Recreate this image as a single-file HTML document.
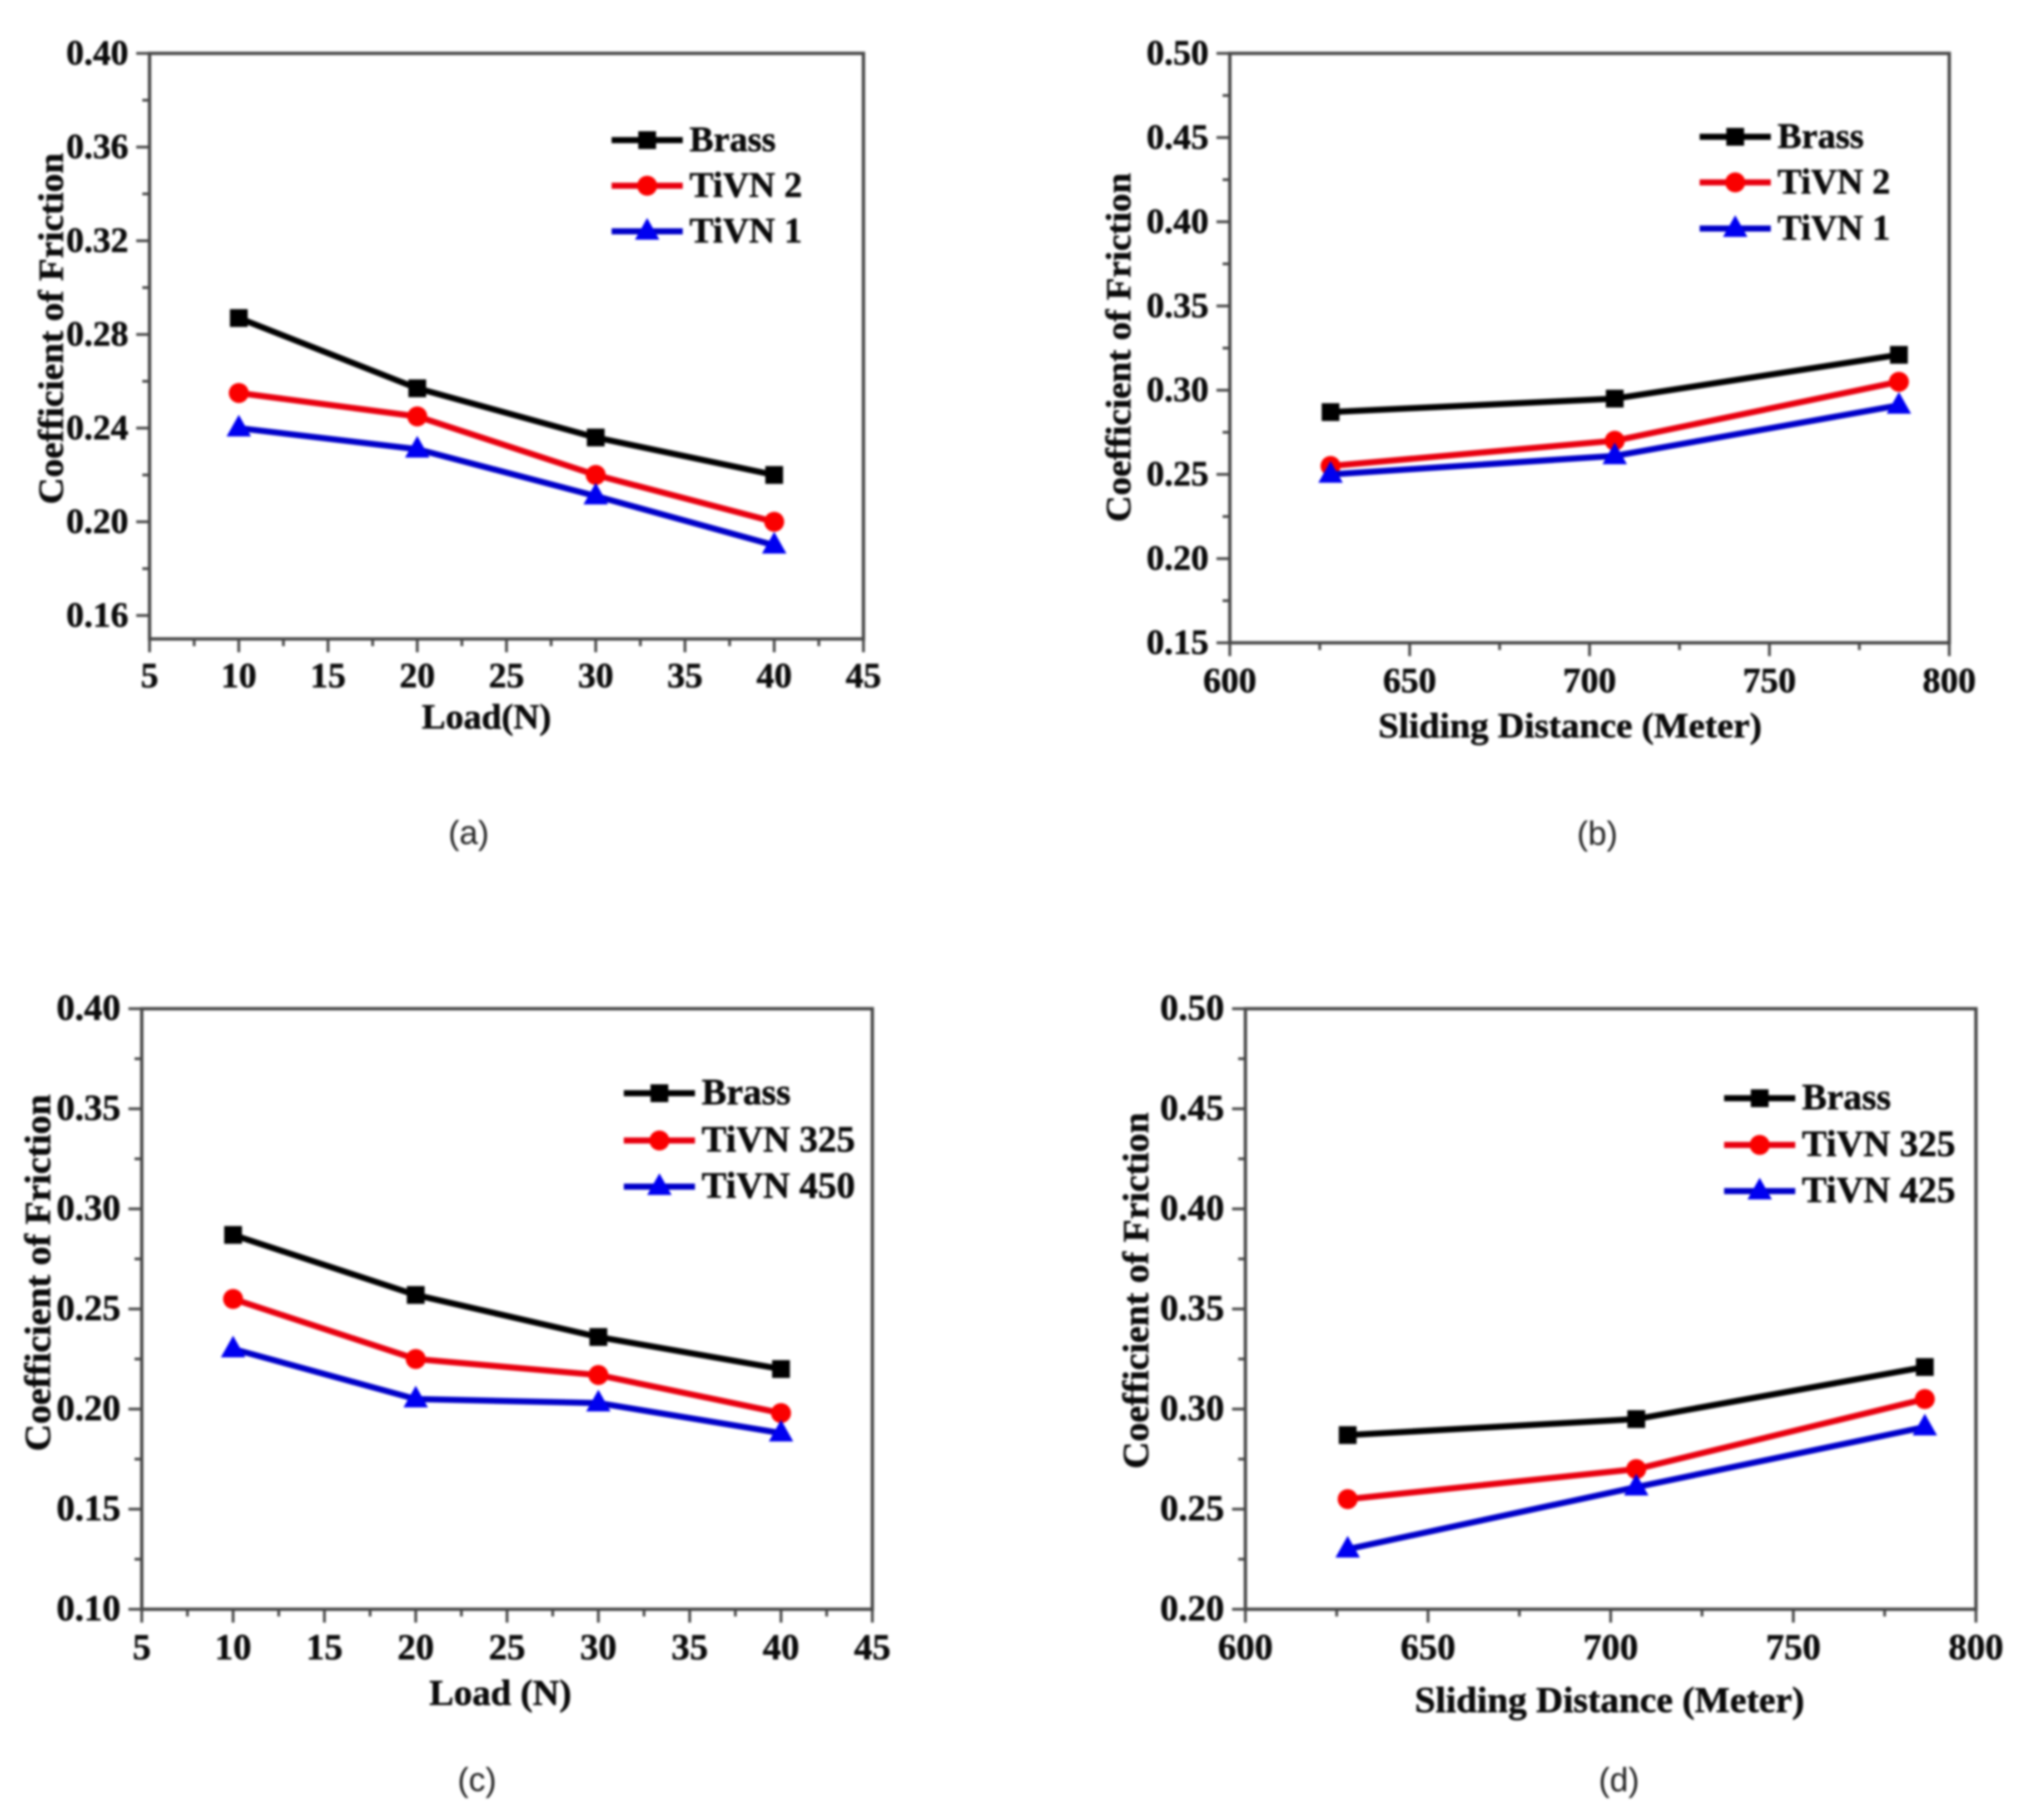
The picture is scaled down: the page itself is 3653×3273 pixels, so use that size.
<!DOCTYPE html>
<html lang="en">
<head>
<meta charset="utf-8">
<title>Coefficient of friction charts</title>
<style>
html,body{margin:0;padding:0;background:#fff;width:3653px;height:3273px;overflow:hidden}
svg{display:block;filter:blur(2px)}
text{font-family:"Liberation Serif",serif;font-weight:700;fill:#0a0a0a;stroke:#0a0a0a;stroke-width:0.8px;font-variant-ligatures:none}
text.caption{font-family:"Liberation Sans",sans-serif;font-weight:400;fill:#222;stroke:none}
</style>
</head>
<body>
<svg id="figure" xmlns="http://www.w3.org/2000/svg" width="3653" height="3273" viewBox="0 0 3653 3273"></svg>
<script>
// ---- Data ----
const loadCategories = [10, 20, 30, 40];
const distanceCategories = [628, 707, 786];

const aBrass = [0.287, 0.257, 0.236, 0.220];
const aTiVN2 = [0.255, 0.245, 0.220, 0.200];
const aTiVN1 = [0.240, 0.231, 0.211, 0.190];

const bBrass = [0.287, 0.295, 0.321];
const bTiVN2 = [0.255, 0.270, 0.305];
const bTiVN1 = [0.250, 0.261, 0.291];

const cBrass = [0.287, 0.257, 0.236, 0.220];
const cTiVN325 = [0.255, 0.225, 0.217, 0.198];
const cTiVN450 = [0.230, 0.205, 0.203, 0.188];

const dBrass = [0.287, 0.295, 0.321];
const dTiVN325 = [0.255, 0.270, 0.305];
const dTiVN425 = [0.230, 0.261, 0.291];

const loadTicks = [5, 10, 15, 20, 25, 30, 35, 40, 45];
const distanceTicks = [600, 650, 700, 750, 800];
const aYTicks = [0.16, 0.20, 0.24, 0.28, 0.32, 0.36, 0.40];
const bYTicks = [0.15, 0.20, 0.25, 0.30, 0.35, 0.40, 0.45, 0.50];
const cYTicks = [0.10, 0.15, 0.20, 0.25, 0.30, 0.35, 0.40];
const dYTicks = [0.20, 0.25, 0.30, 0.35, 0.40, 0.45, 0.50];

const aNames = ['Brass', 'TiVN 2', 'TiVN 1'];
const bNames = ['Brass', 'TiVN 2', 'TiVN 1'];
const cNames = ['Brass', 'TiVN 325', 'TiVN 450'];
const dNames = ['Brass', 'TiVN 325', 'TiVN 425'];

const markerColors = ['#000000', '#fa0000', '#0000f0'];
const lineColors = ['#000000', '#e8000f', '#0000c8'];
const seriesMarkers = ['square', 'circle', 'triangle'];

// ---- Drawing ----
const NS = 'http://www.w3.org/2000/svg';
const figure = document.getElementById('figure');
const axisColor = '#474747';

function make(parent, tag, props, content) {
  const node = document.createElementNS(NS, tag);
  for (const key in props) node.setAttribute(key, props[key]);
  if (content !== undefined) node.textContent = content;
  parent.appendChild(node);
  return node;
}

function drawMarker(parent, kind, cx, cy, color, name) {
  let node;
  if (kind === 'square') {
    node = make(parent, 'rect', {x: cx - 16, y: cy - 16, width: 32, height: 32, fill: color});
  } else if (kind === 'circle') {
    node = make(parent, 'circle', {cx: cx, cy: cy, r: 18, fill: color});
  } else {
    node = make(parent, 'polygon', {points: (cx - 22) + ',' + (cy + 15) + ' ' + (cx + 22) + ',' + (cy + 15) + ' ' + cx + ',' + (cy - 24), fill: color});
  }
  
  
}

function drawPanel(p) {
  const g = make(figure, 'g', {});
  
  

  const xScale = v => p.left + (v - p.xMin) / (p.xMax - p.xMin) * (p.right - p.left);
  const yScale = v => p.bottom - (v - p.yMin) / (p.yMax - p.yMin) * (p.bottom - p.top);

  const frame = make(g, 'rect', {x: p.left, y: p.top, width: p.right - p.left, height: p.bottom - p.top, fill: 'none', stroke: axisColor, 'stroke-width': 6});
  
  

  // x ticks
  const xStep = p.xTicks[1] - p.xTicks[0];
  p.xTicks.forEach((t, i) => {
    const x = xScale(t);
    const tick = make(g, 'line', {x1: x, x2: x, y1: p.bottom, y2: p.bottom + 24, stroke: axisColor, 'stroke-width': 5});
    
    
    const label = make(g, 'text', {x: x, y: p.xTickBase, 'text-anchor': 'middle', 'font-size': p.tickSize}, String(t));
    
    
    if (i < p.xTicks.length - 1) {
      const mx = xScale(t + xStep / 2);
      const minor = make(g, 'line', {x1: mx, x2: mx, y1: p.bottom, y2: p.bottom + 13, stroke: axisColor, 'stroke-width': 5});
      
      
    }
  });

  // y ticks
  const yStep = p.yTicks[1] - p.yTicks[0];
  p.yTicks.forEach((t, i) => {
    const y = yScale(t);
    const tick = make(g, 'line', {x1: p.left - 24, x2: p.left, y1: y, y2: y, stroke: axisColor, 'stroke-width': 5});
    
    
    const label = make(g, 'text', {x: p.left - 38, y: y + 20, 'text-anchor': 'end', 'font-size': p.tickSize}, t.toFixed(2));
    
    
    if (i < p.yTicks.length - 1) {
      const my = yScale(t + yStep / 2);
      const minor = make(g, 'line', {x1: p.left - 13, x2: p.left, y1: my, y2: my, stroke: axisColor, 'stroke-width': 5});
      
      
    }
  });

  // axis titles
  const xTitle = make(g, 'text', {x: p.xTitleX, y: p.xTitleBase, 'text-anchor': 'middle', 'font-size': p.titleSize, textLength: p.xTitleLen, lengthAdjust: 'spacingAndGlyphs'}, p.xTitle);
  
  
  const yTitle = make(g, 'text', {transform: 'translate(' + p.yTitleBase + ',' + p.yTitleY + ') rotate(-90)', 'text-anchor': 'middle', 'font-size': p.titleSize, textLength: p.yTitleLen, lengthAdjust: 'spacingAndGlyphs'}, 'Coefficient of Friction');
  
  

  // series
  p.series.forEach((values, s) => {
    const sg = make(g, 'g', {});
    
    
    const pts = values.map((v, i) => xScale(p.categories[i]) + ',' + yScale(v)).join(' ');
    const line = make(sg, 'polyline', {points: pts, fill: 'none', stroke: lineColors[s], 'stroke-width': 11, 'stroke-linejoin': 'round'});
    
    
    values.forEach((v, i) => {
      drawMarker(sg, seriesMarkers[s], xScale(p.categories[i]), yScale(v), markerColors[s], 'data-point');
    });
  });

  // legend
  const lg = make(g, 'g', {});
  
  
  p.names.forEach((name, s) => {
    const y = p.legendRows[s];
    const entry = make(lg, 'g', {});
    
    
    const swatch = make(entry, 'line', {x1: p.legendX, x2: p.legendX + 128, y1: y, y2: y, stroke: lineColors[s], 'stroke-width': 11});
    
    
    drawMarker(entry, seriesMarkers[s], p.legendX + 64, y, markerColors[s], 'legend-marker');
    const label = make(entry, 'text', {x: p.legendX + 140, y: y + 20, 'font-size': p.legendSize}, name);
    
    
  });

  // caption
  const cap = make(g, 'text', {x: p.capX, y: p.capBase, 'text-anchor': 'middle', 'font-size': 60, class: 'caption'}, '(' + p.id + ')');
  
  
}

drawPanel({id: 'a', left: 269, right: 1553, top: 96, bottom: 1149,
  xMin: 5, xMax: 45, yMin: 0.15, yMax: 0.40,
  xTicks: loadTicks, yTicks: aYTicks, categories: loadCategories,
  series: [aBrass, aTiVN2, aTiVN1], names: aNames,
  tickSize: 64, titleSize: 64, xTickBase: 1236,
  xTitle: 'Load(N)', xTitleX: 875, xTitleBase: 1310, xTitleLen: 233,
  yTitleBase: 113, yTitleY: 591, yTitleLen: 632,
  legendX: 1100, legendRows: [252, 334, 416], legendSize: 65,
  capX: 843, capBase: 1518});

drawPanel({id: 'b', left: 2212, right: 3506, top: 96, bottom: 1156,
  xMin: 600, xMax: 800, yMin: 0.15, yMax: 0.50,
  xTicks: distanceTicks, yTicks: bYTicks, categories: distanceCategories,
  series: [bBrass, bTiVN2, bTiVN1], names: bNames,
  tickSize: 64, titleSize: 64, xTickBase: 1245,
  xTitle: 'Sliding Distance (Meter)', xTitleX: 2824, xTitleBase: 1326, xTitleLen: 690,
  yTitleBase: 2033, yTitleY: 625, yTitleLen: 628,
  legendX: 3057, legendRows: [246, 328, 411], legendSize: 65,
  capX: 2873, capBase: 1519});

drawPanel({id: 'c', left: 255, right: 1569, top: 1814, bottom: 2894,
  xMin: 5, xMax: 45, yMin: 0.10, yMax: 0.40,
  xTicks: loadTicks, yTicks: cYTicks, categories: loadCategories,
  series: [cBrass, cTiVN325, cTiVN450], names: cNames,
  tickSize: 66, titleSize: 66, xTickBase: 2984,
  xTitle: 'Load (N)', xTitleX: 900, xTitleBase: 3066, xTitleLen: 256,
  yTitleBase: 90, yTitleY: 2289, yTitleLen: 642,
  legendX: 1122, legendRows: [1966, 2051, 2134], legendSize: 67,
  capX: 858, capBase: 3221});

drawPanel({id: 'd', left: 2240, right: 3554, top: 1814, bottom: 2894,
  xMin: 600, xMax: 800, yMin: 0.20, yMax: 0.50,
  xTicks: distanceTicks, yTicks: dYTicks, categories: distanceCategories,
  series: [dBrass, dTiVN325, dTiVN425], names: dNames,
  tickSize: 66, titleSize: 66, xTickBase: 2984,
  xTitle: 'Sliding Distance (Meter)', xTitleX: 2895, xTitleBase: 3079, xTitleLen: 701,
  yTitleBase: 2065, yTitleY: 2321, yTitleLen: 641,
  legendX: 3101, legendRows: [1975, 2059, 2142], legendSize: 67,
  capX: 2912, capBase: 3221});
</script>
</body>
</html>
